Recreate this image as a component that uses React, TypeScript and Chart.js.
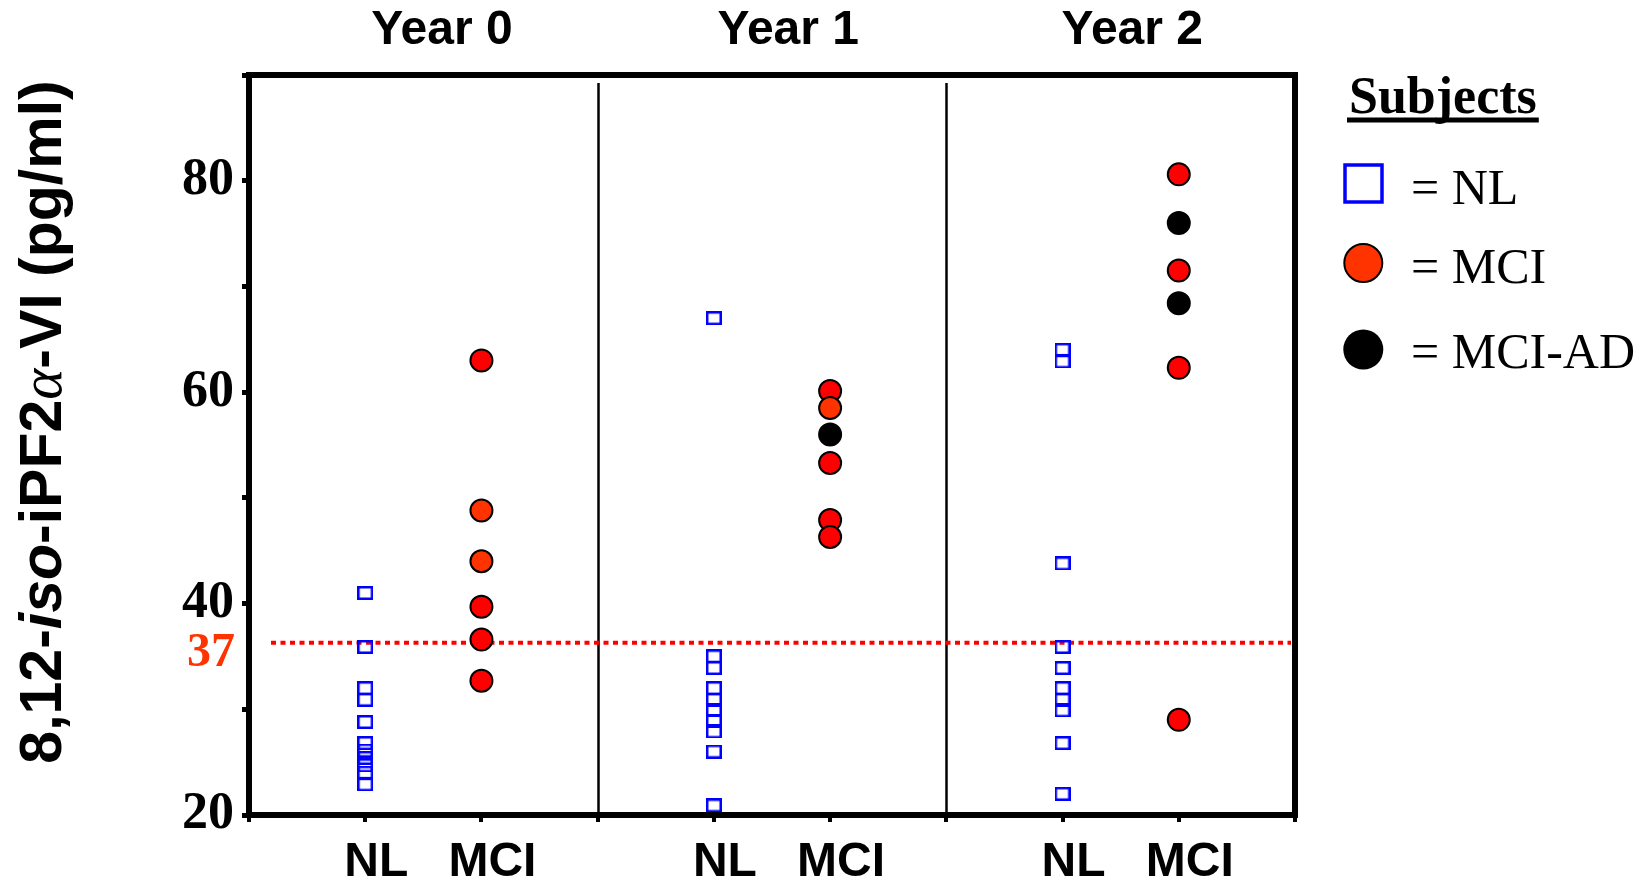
import React, { useEffect, useRef } from "react";
import { Chart, registerables } from "chart.js";

Chart.register(...registerables);

// ---- data ----
const panelTitles = ["Year 0", "Year 1", "Year 2"];
const groupNames = ["NL", "MCI"];
const yLabelledTicks = [20, 40, 60, 80];

const nlYear0 = [41.0, 35.9, 32.0, 30.9, 28.8, 26.8, 26.1, 25.4, 24.7, 24.0, 22.9];
const nlYear1 = [67.0, 35.0, 33.9, 32.0, 30.9, 29.9, 28.9, 27.9, 26.0, 20.9];
const nlYear2 = [64.0, 62.9, 43.8, 35.9, 33.9, 32.0, 30.9, 29.9, 26.8, 22.0];

const mciRedYear0 = [63.0, 39.7, 36.6, 32.7];
const mciRedYear1 = [60.1, 53.3, 47.9, 46.3];
const mciRedYear2 = [80.6, 71.5, 62.3, 29.0];

const mciOrangeYear0 = [48.8, 44.0];
const mciOrangeYear1 = [58.5];
const mciOrangeYear2: number[] = [];

const mciAdYear0: number[] = [];
const mciAdYear1 = [56.0];
const mciAdYear2 = [76.0, 68.4];

const thresholdValue = 36.3;
const thresholdLabel = "37";

const legendTitle = "Subjects";
const legendNames = ["NL", "MCI", "MCI-AD"];

// x position of a group inside a panel (library units)
const groupX = (panel: number, group: number) => panel * 3 + 1 + group;
const toPoints = (vals: number[][], group: number) =>
  vals.flatMap((arr, p) => arr.map((v) => ({ x: groupX(p, group), y: v })));

const SANS = "'Liberation Sans', Arial, sans-serif";
const SERIF = "'Liberation Serif', 'Times New Roman', serif";

const overlayPlugin = {
  id: "overlay",
  beforeDatasetsDraw(chart: any) {
    const { ctx, chartArea: a, scales } = chart;
    const x = scales.x;
    const y = scales.y;
    ctx.save();
    // panel dividers
    ctx.strokeStyle = "#000";
    ctx.lineWidth = 2.5;
    [3, 6].forEach((v) => {
      const px = Math.round(x.getPixelForValue(v)) + 0.5;
      ctx.beginPath();
      ctx.moveTo(px, a.top + 8);
      ctx.lineTo(px, a.bottom);
      ctx.stroke();
    });
    // threshold dotted line
    const ty = y.getPixelForValue(thresholdValue);
    ctx.strokeStyle = "#ff0000";
    ctx.lineWidth = 4;
    ctx.setLineDash([5, 4.5]);
    ctx.beginPath();
    ctx.moveTo(a.left + 22, ty);
    ctx.lineTo(a.right - 4, ty);
    ctx.stroke();
    ctx.restore();
  },
  afterDraw(chart: any) {
    const { ctx, chartArea: a, scales } = chart;
    const x = scales.x;
    const y = scales.y;
    ctx.save();
    // frame
    ctx.strokeStyle = "#000";
    ctx.lineWidth = 6;
    ctx.strokeRect(a.left, a.top, a.right - a.left, a.bottom - a.top);

    // panel titles
    const titlePos = [1.66, 4.64, 7.6];
    ctx.fillStyle = "#000";
    ctx.font = `bold 48px ${SANS}`;
    ctx.textAlign = "center";
    ctx.textBaseline = "alphabetic";
    panelTitles.forEach((t, i) => ctx.fillText(t, x.getPixelForValue(titlePos[i]), 44));

    // threshold label
    const ty = y.getPixelForValue(thresholdValue);
    ctx.fillStyle = "#ff3300";
    ctx.font = `bold 48px ${SERIF}`;
    ctx.textAlign = "right";
    ctx.textBaseline = "middle";
    ctx.fillText(thresholdLabel, a.left - 14, ty + 11);

    // y-axis title (rotated, with italic "iso" and alpha)
    const bold = `bold 59px ${SANS}`;
    const segs = [
      { t: "8,12-", f: bold },
      { t: "iso", f: `italic bold 59px ${SANS}` },
      { t: "-iPF2", f: bold },
      { t: "\u03B1", f: `italic 59px ${SERIF}` },
      { t: "-VI (pg/ml)", f: bold },
    ];
    let total = 0;
    segs.forEach((s) => {
      ctx.font = s.f;
      total += ctx.measureText(s.t).width;
    });
    ctx.save();
    ctx.translate(61, 422 + total / 2);
    ctx.rotate(-Math.PI / 2);
    ctx.fillStyle = "#000";
    ctx.textAlign = "left";
    ctx.textBaseline = "alphabetic";
    let cx = 0;
    segs.forEach((s) => {
      ctx.font = s.f;
      ctx.fillText(s.t, cx, 0);
      cx += ctx.measureText(s.t).width;
    });
    ctx.restore();

    // legend
    ctx.fillStyle = "#000";
    ctx.textAlign = "left";
    ctx.textBaseline = "alphabetic";
    ctx.font = `bold 52px ${SERIF}`;
    ctx.fillText(legendTitle, 1349, 113);
    const tw = ctx.measureText(legendTitle).width;
    ctx.fillRect(1347, 117.5, tw + 4, 5);

    ctx.strokeStyle = "#0000ff";
    ctx.lineWidth = 3.5;
    ctx.strokeRect(1345, 165, 37, 37);

    ctx.beginPath();
    ctx.arc(1363.3, 263, 19, 0, Math.PI * 2);
    ctx.fillStyle = "#ff3300";
    ctx.fill();
    ctx.lineWidth = 2;
    ctx.strokeStyle = "#000";
    ctx.stroke();

    ctx.beginPath();
    ctx.arc(1363.3, 349.5, 20, 0, Math.PI * 2);
    ctx.fillStyle = "#000";
    ctx.fill();

    ctx.fillStyle = "#000";
    ctx.font = `50px ${SERIF}`;
    const baselines = [204, 283, 368];
    legendNames.forEach((n, i) => ctx.fillText("= " + n, 1411, baselines[i]));
    ctx.restore();
  },
};

export default function App() {
  const ref = useRef<HTMLCanvasElement | null>(null);

  useEffect(() => {
    if (!ref.current) return;
    const sq = document.createElement("canvas");
    sq.width = 16;
    sq.height = 14;
    const sc = sq.getContext("2d")!;
    sc.strokeStyle = "#0000ff";
    sc.lineWidth = 2.5;
    sc.strokeRect(1.25, 1.25, 13.5, 11.5);

    const circle = (bg: string, border: string) => ({
      pointStyle: "circle" as const,
      pointRadius: 11,
      pointBackgroundColor: bg,
      pointBorderColor: border,
      pointBorderWidth: 2,
      showLine: false,
    });

    const chart = new Chart(ref.current, {
      type: "scatter",
      data: {
        datasets: [
          { label: "MCI-AD", data: toPoints([mciAdYear0, mciAdYear1, mciAdYear2], 1), ...circle("#000000", "#000000") },
          { label: "MCI", data: toPoints([mciOrangeYear0, mciOrangeYear1, mciOrangeYear2], 1), ...circle("#ff3300", "#000000") },
          { label: "MCI", data: toPoints([mciRedYear0, mciRedYear1, mciRedYear2], 1), ...circle("#ff0000", "#000000") },
          {
            label: "NL",
            data: toPoints([nlYear0, nlYear1, nlYear2], 0),
            pointStyle: sq as any,
            pointRadius: 8,
            showLine: false,
          },
        ],
      },
      options: {
        animation: false,
        responsive: false,
        events: [],
        layout: { padding: { top: 75, right: 353, left: 0, bottom: 0 } },
        plugins: { legend: { display: false }, tooltip: { enabled: false } },
        scales: {
          x: {
            type: "linear",
            min: 0,
            max: 9,
            afterFit: (s: any) => {
              s.height = 63;
            },
            border: { display: false },
            grid: { drawOnChartArea: false, drawTicks: true, tickLength: 7, lineWidth: 4, color: "#000" },
            ticks: {
              stepSize: 1,
              autoSkip: false,
              maxRotation: 0,
              minRotation: 0,
              padding: 12,
              labelOffset: 11,
              color: "#000",
              font: { family: SANS, size: 48, weight: "bold" },
              callback: (v: any) => {
                const k = Math.round(Number(v));
                const g = (k % 3) - 1;
                return g >= 0 && g < groupNames.length ? groupNames[g] : "";
              },
            },
          },
          y: {
            type: "linear",
            min: 20,
            max: 90,
            afterFit: (s: any) => {
              s.width = 249;
            },
            border: { display: false },
            grid: { drawOnChartArea: false, drawTicks: true, tickLength: 7, lineWidth: 5, color: "#000" },
            ticks: {
              stepSize: 10,
              padding: 8,
              color: "#000",
              font: { family: SERIF, size: 52, weight: "bold" },
              callback: (v: any) => (yLabelledTicks.includes(Number(v)) ? String(v) : ""),
            },
          },
        },
      },
      plugins: [overlayPlugin],
    });
    return () => chart.destroy();
  }, []);

  return (
    <div style={{ position: "fixed", left: 0, top: 0, width: 1648, height: 878, background: "#fff", overflow: "hidden" }}>
      <canvas ref={ref} width={1648} height={878} style={{ display: "block" }} />
    </div>
  );
}
